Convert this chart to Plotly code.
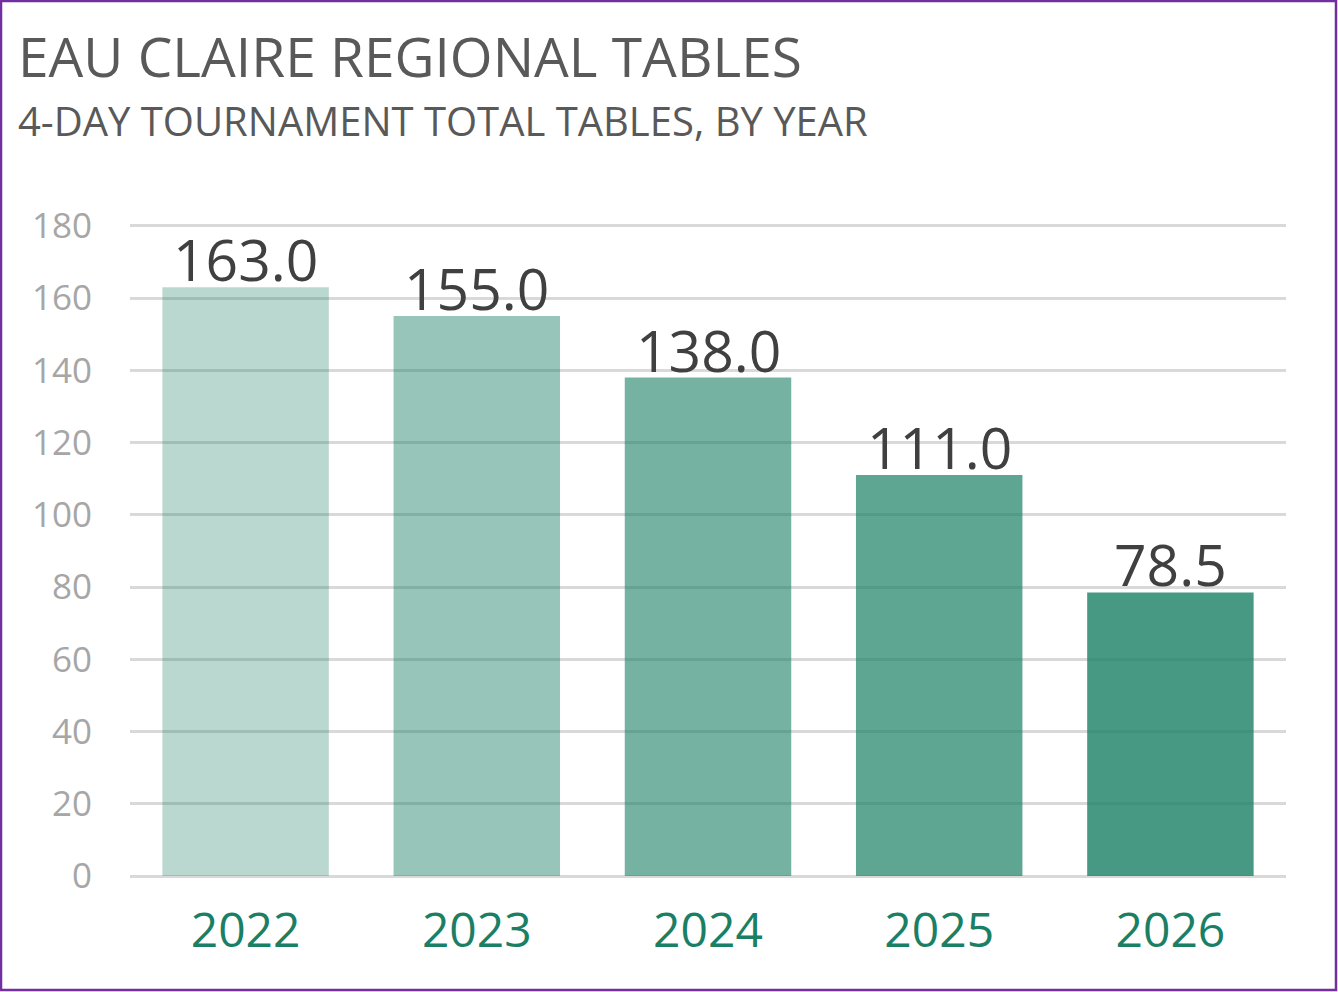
import plotly.graph_objects as go

years = ["2022", "2023", "2024", "2025", "2026"]
tables = [163.0, 155.0, 138.0, 111.0, 78.5]
bar_opacity = [0.30, 0.45, 0.60, 0.70, 0.80]
label_text = [f"{v:.1f}" for v in tables]
y_ticks = [0, 20, 40, 60, 80, 100, 120, 140, 160, 180]

base = (26, 127, 100)
colors = [f"rgba({base[0]},{base[1]},{base[2]},{a})" for a in bar_opacity]

FONT = "Open Sans"
W, H = 1338, 992
ML, MR, MT, MB = 130, 52, 224, 116
PW, PH = W - ML - MR, H - MT - MB


def px_x(p):
    return (p - ML) / PW


def px_y(p):
    return (H - MB - p) / PH


fig = go.Figure(go.Bar(
    x=years, y=tables,
    marker=dict(color=colors, line=dict(width=0)),
    width=0.72,
    hoverinfo="x+y",
))

# category axis: annotation x uses the category's serial index
annotations = [
    dict(x=i, y=v, text=t, xref="x", yref="y", showarrow=False,
         xanchor="center", yanchor="bottom", yshift=-13,
         font=dict(family=FONT, size=57, color="#404040"))
    for i, (v, t) in enumerate(zip(tables, label_text))
]
annotations += [
    dict(text="EAU CLAIRE REGIONAL TABLES", xref="paper", yref="paper",
         x=px_x(16), y=px_y(55), xanchor="left", yanchor="middle",
         showarrow=False, font=dict(family=FONT, size=55, color="#595959")),
    dict(text="4-DAY TOURNAMENT TOTAL TABLES, BY YEAR", xref="paper", yref="paper",
         x=px_x(16), y=px_y(121), xanchor="left", yanchor="middle",
         showarrow=False, font=dict(family=FONT, size=40, color="#595959")),
]

fig.update_layout(
    width=W, height=H,
    paper_bgcolor="white", plot_bgcolor="white",
    margin=dict(l=ML, r=MR, t=MT, b=MB),
    showlegend=False,
    xaxis=dict(
        type="category", range=[-0.5, len(years) - 0.5],
        tickfont=dict(family=FONT, size=48, color="#1a7f64"),
        showgrid=False, showline=False,
        ticks="outside", ticklen=12, tickcolor="rgba(0,0,0,0)",
    ),
    yaxis=dict(
        range=[0, 180.5], tickvals=y_ticks,
        tickfont=dict(family=FONT, size=35, color="#a6a6a6"),
        showgrid=True, gridcolor="#d9d9d9", gridwidth=2.5,
        zeroline=True, zerolinecolor="#d9d9d9", zerolinewidth=2.5,
        showline=False, ticks="outside", ticklen=30, tickcolor="rgba(0,0,0,0)",
    ),
    annotations=annotations,
    shapes=[dict(type="rect", xref="paper", yref="paper",
                 x0=px_x(1), x1=px_x(1336), y0=px_y(990), y1=px_y(1),
                 line=dict(color="#7030a0", width=2.5), fillcolor="rgba(0,0,0,0)")],
)

fig.write_html("out.html", config={"displayModeBar": False},
               post_script="document.body.style.margin='0px';")
